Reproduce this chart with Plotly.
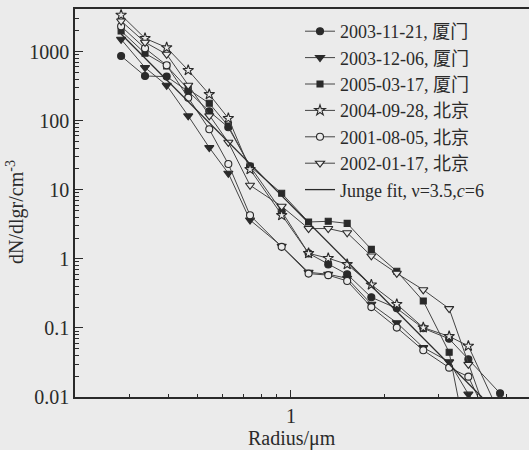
import plotly.graph_objects as go
import numpy as np

# ---------------- data ----------------
radius = [0.282, 0.337, 0.396, 0.465, 0.544, 0.627, 0.737, 0.933, 1.14, 1.32,
          1.52, 1.82, 2.20, 2.68, 3.25, 3.75, 4.75]

xm_20031121 = [861, 442, 433, 265, 136, 80, 21.8, 4.87, 1.20, 0.83, 0.597,
               0.277, 0.192, 0.0987, 0.0695, 0.0352, 0.0113]
xm_20031206 = [1502, 585, 324, 117, 40.7, 17.3, 3.64, 1.52, 0.638, 0.597, 0.523,
               0.220, 0.119, 0.0519, 0.0323, 0.0110, 0.003]
xm_20050317 = [1982, 942, 620, 284, 178, 83.5, 21.8, 8.87, 3.41, 3.49, 3.26,
               1.37, 0.659, 0.245, 0.0444, 0.00175, None]
bj_20040928 = [3376, 1553, 1139, 535, 240, 108, 19.7, 4.26, 1.20, 1.02, 0.83,
               0.421, 0.220, 0.101, 0.0755, 0.0547, 0.0055]
bj_20010805 = [2316, 1112, 632, 215, 74.8, 23.5, 4.26, 1.49, 0.611, 0.58, 0.478,
               0.200, 0.101, 0.0474, 0.0266, 0.0197, 0.0021]
bj_20020117 = [2762, 1359, 911, 324, 117, 48.5, 11.6, 5.75, 2.74, 2.74, 2.38,
               1.10, 0.617, 0.356, 0.190, 0.0297, 0.00155]

series_names = ["2003-11-21, 厦门", "2003-12-06, 厦门", "2005-03-17, 厦门",
                "2004-09-28, 北京", "2001-08-05, 北京", "2002-01-17, 北京"]
series_values = [xm_20031121, xm_20031206, xm_20050317,
                 bj_20040928, bj_20010805, bj_20020117]

junge_nu = 3.5
junge_c = 6
junge_name = "Junge fit, ν=3.5,<i>c</i>=6"
junge_r = [0.282, 5.0]

# ---------------- style ----------------
BG = "#ebebeb"
INK = "#2a2a2a"
LINE = "#444444"
FONT = "Liberation Serif, Times New Roman, Noto Sans CJK SC, serif"

symbols = ["circle", "triangle-down", "square", "star", "circle", "triangle-down"]
filled = [True, True, True, False, False, False]
sizes = [7, 8, 6, 8, 7, 8]

fig = go.Figure()
for name, vals, sym, fl, sz in zip(series_names, series_values, symbols, filled, sizes):
    fig.add_trace(go.Scatter(
        x=radius, y=vals, name=name, mode="lines+markers",
        line=dict(color=LINE, width=1),
        marker=dict(symbol=sym, size=sz, color=INK if fl else BG,
                    line=dict(color=INK, width=1.1)),
    ))

jr = np.array(junge_r)
fig.add_trace(go.Scatter(
    x=jr, y=junge_c * jr ** (-(junge_nu + 1)), name=junge_name, mode="lines",
    line=dict(color=INK, width=1.3),
))

W, H = 529, 450
L, R, T, B = 75, 0, 9, 53
pw, ph = W - L - R, H - T - B

def px(x):
    return (x - L) / pw

def py(y):
    return (H - B - y) / ph

minor_x = [0.3, 0.4, 0.5, 0.6, 0.7, 0.8, 0.9, 2, 3, 4, 5]
minor_y = [m * 10 ** e for e in range(-2, 4) for m in range(2, 10)]

fig.update_layout(
    width=W, height=H,
    margin=dict(l=L, r=R, t=T, b=B),
    paper_bgcolor=BG, plot_bgcolor=BG,
    font=dict(family=FONT, color=INK, size=20),
    showlegend=True,
    legend=dict(x=px(300), y=py(13), xanchor="left", yanchor="top",
                bgcolor="rgba(0,0,0,0)", font=dict(size=18, family=FONT),
                itemwidth=30, tracegroupgap=0),
    xaxis=dict(type="log", range=[np.log10(0.2), np.log10(0.2) + pw / 309],
               showgrid=False, zeroline=False, showline=True, linecolor=INK,
               linewidth=1.6, mirror=True,
               tickmode="array", tickvals=[1], ticktext=["1"],
               ticks="inside", ticklen=7, tickwidth=1.2, tickcolor=INK,
               minor=dict(tickmode="array", tickvals=minor_x, ticks="inside",
                          ticklen=3, tickwidth=1, tickcolor=INK),
               tickfont=dict(size=20)),
    yaxis=dict(type="log", range=[-2, -2 + ph / 69.1],
               showgrid=False, zeroline=False, showline=True, linecolor=INK,
               linewidth=1.6,
               tickmode="array", tickvals=[0.01, 0.1, 1, 10, 100, 1000],
               ticktext=["0.01", "0.1", "1", "10", "100", "1000"],
               ticks="inside", ticklen=8, tickwidth=1.2, tickcolor=INK,
               minor=dict(tickmode="array", tickvals=minor_y, ticks="inside",
                          ticklen=4, tickwidth=1, tickcolor=INK),
               tickfont=dict(size=20)),
    annotations=[
        dict(text="Radius/μm", xref="paper", yref="paper", x=px(292), y=py(438),
             showarrow=False, font=dict(size=20, family=FONT),
             xanchor="center", yanchor="middle"),
        dict(text="dN/dlgr/cm<sup>-3</sup>", xref="paper", yref="paper",
             x=px(16), y=py(212), textangle=-90, showarrow=False,
             font=dict(size=20, family=FONT), xanchor="center", yanchor="middle"),
    ],
)

fig.write_html("out.html")
